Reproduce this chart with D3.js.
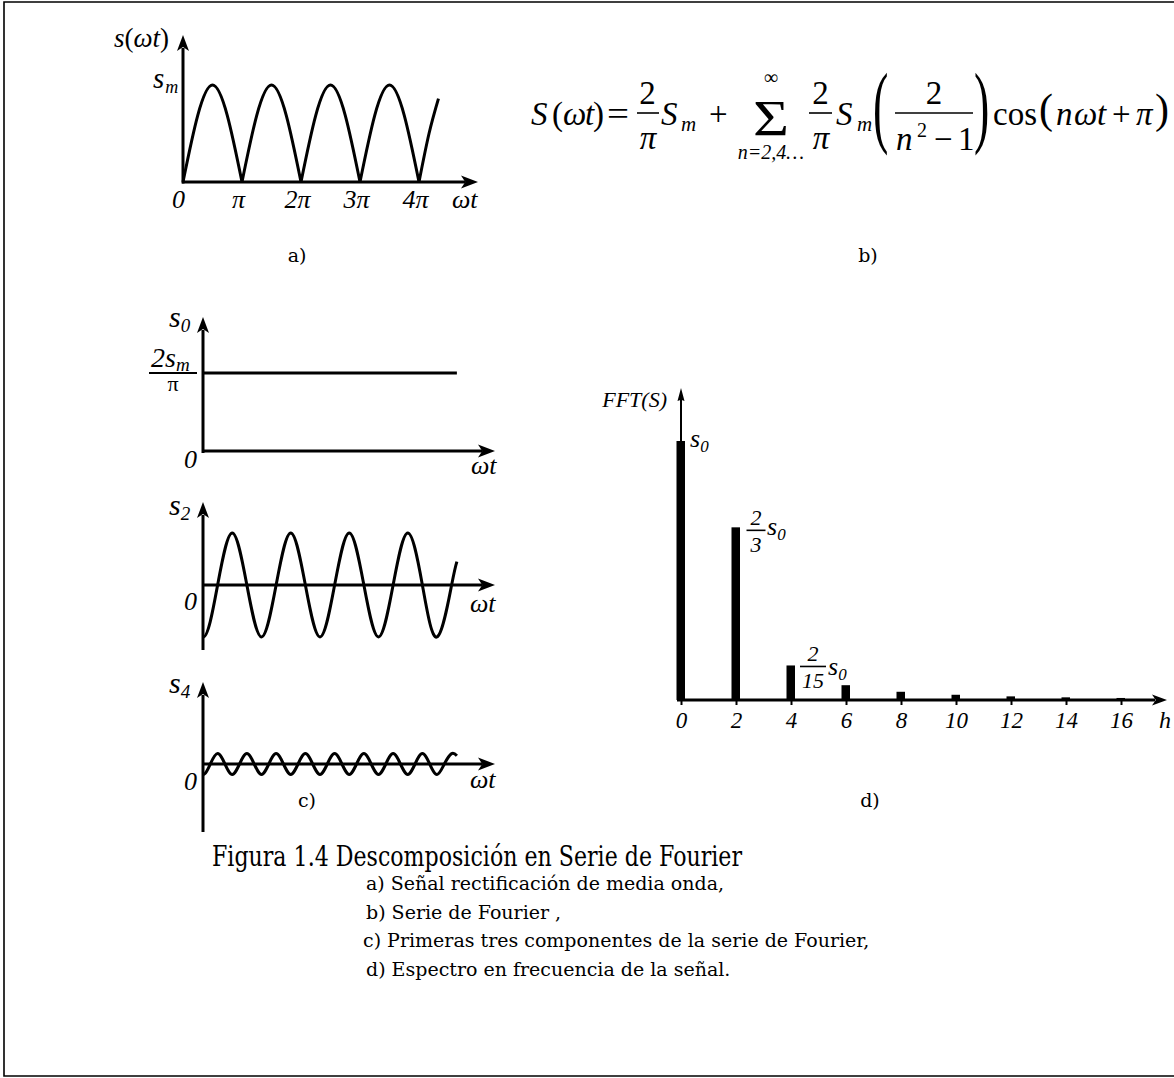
<!DOCTYPE html>
<html><head><meta charset="utf-8">
<script src="https://cdn.jsdelivr.net/npm/d3@7"></script>
<style>
html,body{margin:0;padding:0;background:#fff;}
svg{display:block;}
</style></head><body>
<svg id="fig" width="1174" height="1078"></svg>
<script>
// ---------- data ----------
// (a) rectified sine: arches between consecutive zeros (ωt in units of π), peak = Sm
const archZeros = [0, 1, 2, 3, 4];
const archPeak = 1;
const tailKeys = [[4, 0], [4.17, 0.5], [4.33, 0.86]];
const aTicks = [0, 1, 2, 3, 4];
const aTickLabels = ["0", "π", "2π", "3π", "4π"];

// (c) first three Fourier components, in units of Sm
const s0Level = 2 / Math.PI;
const s2Amp = (2 / Math.PI) * (2 / 3);
const s4Amp = (2 / Math.PI) * (2 / 15);
// key points [ωt/π, normalised value] of cos(nωt + π); the leading points before 0 are clipped
const s2Keys = [
  [-0.5,1],[-0.25,0],
  [0,-1],[0.25,0],[0.5,1],[0.75,0],[1,-1],[1.25,0],[1.5,1],[1.75,0],[2,-1],
  [2.25,0],[2.5,1],[2.75,0],[3,-1],[3.25,0],[3.5,1],[3.75,0],[4,-1],[4.25,0],[4.34,0.45]
];
const s4Keys = [
  [-0.25,1],[-0.125,0],
  [0,-1],[0.125,0],[0.25,1],[0.375,0],[0.5,-1],[0.625,0],[0.75,1],[0.875,0],[1,-1],
  [1.125,0],[1.25,1],[1.375,0],[1.5,-1],[1.625,0],[1.75,1],[1.875,0],[2,-1],
  [2.125,0],[2.25,1],[2.375,0],[2.5,-1],[2.625,0],[2.75,1],[2.875,0],[3,-1],
  [3.125,0],[3.25,1],[3.375,0],[3.5,-1],[3.625,0],[3.75,1],[3.875,0],[4,-1],
  [4.125,0],[4.25,1],[4.34,0.8]
];
const cEnd = 4.34;

// (d) spectrum: harmonic order and amplitude relative to s0
const harmonics = [0, 2, 4, 6, 8, 10, 12, 14, 16];
const spectrum = [1, 2/3, 2/15, 2/35, 2/63, 2/99, 2/143, 2/195, 2/255];

// caption
const captionTitle = "Figura 1.4 Descomposición en Serie de Fourier";
const captionLines = [
  "a) Señal rectificación de media onda,",
  "b) Serie de Fourier ,",
  "c) Primeras tres componentes de la serie de Fourier,",
  "d) Espectro en frecuencia de la señal."
];

// ---------- drawing ----------
const SERIF = '"Liberation Serif", "Times New Roman", serif';
const BOOK = '"DejaVu Serif", serif';
const svg = d3.select("#fig");

// outer frame
svg.append("path").attr("d", "M1174,2 H4 V1076 H1174")
  .attr("fill", "none").attr("stroke", "#000").attr("stroke-width", 1.6);

function arrow(g, x, y, dir, L, W, notch) {
  const n = notch == null ? 0.25 : notch;
  let pts;
  if (dir === "right") pts = [[x, y], [x - L, y - W / 2], [x - L * (1 - n), y], [x - L, y + W / 2]];
  else pts = [[x, y], [x - W / 2, y + L], [x, y + L * (1 - n)], [x + W / 2, y + L]];
  g.append("path").attr("d", "M" + pts.join("L") + "Z").attr("fill", "#000");
}
function hLine(g, x1, x2, y, w) {
  g.append("line").attr("x1", x1).attr("x2", x2).attr("y1", y).attr("y2", y)
    .attr("stroke", "#000").attr("stroke-width", w);
}
function vLine(g, x, y1, y2, w) {
  g.append("line").attr("x1", x).attr("x2", x).attr("y1", y1).attr("y2", y2)
    .attr("stroke", "#000").attr("stroke-width", w);
}
function txt(g, x, y, s, size, opts) {
  opts = opts || {};
  const t = g.append("text").attr("x", x).attr("y", y).text(s)
    .style("font-family", opts.fam || SERIF)
    .style("font-style", opts.upright ? "normal" : "italic")
    .style("font-size", size + "px").attr("fill", "#000");
  if (opts.anchor) t.attr("text-anchor", opts.anchor);
  if (opts.len) t.attr("textLength", opts.len).attr("lengthAdjust", "spacingAndGlyphs");
  return t;
}
// symbol with subscript, e.g. s₀
function sub(g, x, y, base, s, size, subSize, subDy, subDx) {
  const t = g.append("text").attr("x", x).attr("y", y)
    .style("font-family", SERIF).style("font-style", "italic")
    .style("font-size", size + "px").attr("fill", "#000");
  t.append("tspan").text(base);
  t.append("tspan").attr("dx", subDx || 0).attr("dy", subDy).style("font-size", subSize + "px").text(s);
  return t;
}

// ===== (a) =====
const gA = svg.append("g");
const xA = d3.scaleLinear().domain([0, 1]).range([183, 242]);
const yA = d3.scaleLinear().domain([0, 1]).range([182, 85]);
vLine(gA, xA(0), yA(0) + 1.5, 48, 3);
arrow(gA, xA(0), 35, "up", 16, 12);
hLine(gA, xA(0) - 1, 465, yA(0), 3);
arrow(gA, 478, yA(0), "right", 17, 13);

const lineA = d3.line().x(d => xA(d[0])).y(d => yA(d[1])).curve(d3.curveNatural);
const arches = d3.pairs(archZeros).map(([a, b]) => [[a, 0], [(a + b) / 2, archPeak], [b, 0]]);
gA.selectAll("path.arch").data(arches.concat([tailKeys])).join("path")
  .attr("class", "arch").attr("d", lineA)
  .attr("fill", "none").attr("stroke", "#000").attr("stroke-width", 3);

const axA = d3.axisBottom(xA).tickValues(aTicks).tickSize(0).tickFormat((d, i) => aTickLabels[i]);
const gAx = gA.append("g").attr("transform", `translate(0,${yA(0)})`).call(axA);
gAx.select(".domain").remove();
gAx.attr("font-family", null).attr("font-size", null);
gAx.selectAll("text").attr("y", 26).attr("dy", 0).attr("dx", (d) => d === 0 ? -5 : -4)
  .style("font-family", SERIF).style("font-style", "italic").style("font-size", "26px").attr("fill", "#000");
txt(gA, 452, 208, "ωt", 26);
{
  const t = gA.append("text").attr("x", 114).attr("y", 47)
    .style("font-family", SERIF).style("font-style", "italic").style("font-size", "27px");
  t.append("tspan").text("s");
  t.append("tspan").style("font-style", "normal").text("(");
  t.append("tspan").text("ωt");
  t.append("tspan").style("font-style", "normal").text(")");
}
sub(gA, 153, 88, "s", "m", 29, 18, 5, 1);
txt(gA, 297, 262, "a)", 19, { fam: BOOK, upright: true, anchor: "middle" });
txt(gA, 868, 262, "b)", 19, { fam: BOOK, upright: true, anchor: "middle" });

// ===== (b) formula =====
const gB = svg.append("g");
function f(x, y, s, size, italic, anchor) {
  return txt(gB, x, y, s, size, { upright: !italic, anchor: anchor });
}
f(531, 125, "S", 33, true);
f(552, 125, "(", 33, false);
f(563, 125, "ω", 33, true);
f(585, 125, "t", 33, true);
f(593, 125, ")", 33, false);
f(607, 125, "=", 33, false).attr("textLength", 22).attr("lengthAdjust", "spacingAndGlyphs");
f(647.5, 104, "2", 33, false, "middle");
hLine(gB, 637, 659, 113, 1.6);
f(648, 149, "π", 33, true, "middle");
f(661, 125, "S", 33, true);
f(681, 131, "m", 21, true);
f(709, 125, "+", 33, false);
f(771, 135, "Σ", 50, false, "middle").attr("textLength", 36).attr("lengthAdjust", "spacingAndGlyphs");
f(771, 84, "∞", 20, false, "middle");
f(771, 159, "n=2,4…", 20, true, "middle");
f(820.5, 104, "2", 33, false, "middle");
hLine(gB, 809, 832, 113, 1.6);
f(821, 149, "π", 33, true, "middle");
f(836, 125, "S", 33, true);
f(857, 131, "m", 21, true);
gB.append("text").attr("transform", "translate(873,136) scale(1.15,2.3)")
  .style("font-family", SERIF).style("font-size", "40px").text("(");
gB.append("text").attr("transform", "translate(974,136) scale(1.15,2.3)")
  .style("font-family", SERIF).style("font-size", "40px").text(")");
f(934, 104, "2", 33, false, "middle");
hLine(gB, 895, 973, 113, 1.6);
f(896, 150, "n", 33, true);
f(917, 137, "2", 20, false);
f(934, 150, "−", 33, false);
f(958, 150, "1", 33, false);
f(993, 125, "cos", 33, false);
f(1039, 123, "(", 42, false);
f(1056, 125, "n", 33, true);
f(1074, 125, "ω", 33, true);
f(1097, 125, "t", 33, true);
f(1112, 125, "+", 33, false);
f(1136, 125, "π", 33, true);
f(1155, 123, ")", 42, false);

// ===== (c) =====
const gC = svg.append("g");
const xC = d3.scaleLinear().domain([0, 1]).range([203, 261.5]);
const pxPerSm = 122.5;
const yS0 = d3.scaleLinear().domain([0, 1]).range([451, 451 - pxPerSm]);
const yS2 = d3.scaleLinear().domain([0, 1]).range([585, 585 - pxPerSm]);
const yS4 = d3.scaleLinear().domain([0, 1]).range([764, 764 - pxPerSm]);
svg.append("clipPath").attr("id", "cclip").append("rect")
  .attr("x", xC(0)).attr("y", 0).attr("width", 400).attr("height", 1078);

// s0
vLine(gC, xC(0), 453, 330, 3);
arrow(gC, xC(0), 317, "up", 16, 12);
hLine(gC, xC(0) - 1, 482, yS0(0), 3);
arrow(gC, 495, yS0(0), "right", 17, 13);
gC.append("path").datum([[0, s0Level], [cEnd, s0Level]])
  .attr("d", d3.line().x(d => xC(d[0])).y(d => yS0(d[1])))
  .attr("stroke", "#000").attr("stroke-width", 3).attr("fill", "none");
sub(gC, 169, 327, "s", "0", 30, 19, 5);
{
  const t = gC.append("text").attr("x", 151).attr("y", 367)
    .style("font-family", SERIF).style("font-style", "italic").style("font-size", "28px");
  t.append("tspan").text("2s");
  t.append("tspan").attr("dy", 4).style("font-size", "19px").text("m");
  hLine(gC, 149, 197, yS0(s0Level), 1.8);
  txt(gC, 173, 391, "π", 22, { upright: true, anchor: "middle" });
}
txt(gC, 184, 468, "0", 26);
txt(gC, 471, 474, "ωt", 26);

// s2
vLine(gC, xC(0), 650, 515, 3);
arrow(gC, xC(0), 502, "up", 16, 12);
hLine(gC, xC(0) - 1, 482, yS2(0), 3);
arrow(gC, 495, yS2(0), "right", 17, 13);
gC.append("path").datum(s2Keys).attr("clip-path", "url(#cclip)")
  .attr("d", d3.line().x(d => xC(d[0])).y(d => yS2(d[1] * s2Amp)).curve(d3.curveNatural))
  .attr("stroke", "#000").attr("stroke-width", 3).attr("fill", "none");
sub(gC, 169, 515, "s", "2", 30, 19, 5);
txt(gC, 184, 610, "0", 26);
txt(gC, 470, 612, "ωt", 26);

// s4
vLine(gC, xC(0), 832, 695, 3);
arrow(gC, xC(0), 682, "up", 16, 12);
hLine(gC, xC(0) - 1, 482, yS4(0), 3);
arrow(gC, 495, yS4(0), "right", 17, 13);
gC.append("path").datum(s4Keys).attr("clip-path", "url(#cclip)")
  .attr("d", d3.line().x(d => xC(d[0])).y(d => yS4(d[1] * s4Amp)).curve(d3.curveNatural))
  .attr("stroke", "#000").attr("stroke-width", 3).attr("fill", "none");
sub(gC, 169, 693, "s", "4", 30, 19, 5);
txt(gC, 184, 790, "0", 26);
txt(gC, 470, 788, "ωt", 26);
txt(gC, 307, 807, "c)", 19, { fam: BOOK, upright: true, anchor: "middle" });

// ===== (d) =====
const gD = svg.append("g");
const xD = d3.scaleLinear().domain([0, 16]).range([681, 1121]);
const yD = d3.scaleLinear().domain([0, 1]).range([700, 441]);
vLine(gD, xD(0), 700, 398, 2);
arrow(gD, xD(0), 388, "up", 13, 7, 0.1);
gD.selectAll("rect.bar").data(spectrum).join("rect").attr("class", "bar")
  .attr("x", (d, i) => xD(harmonics[i]) - 4.5).attr("width", 8.5)
  .attr("y", d => yD(d)).attr("height", d => yD(0) - yD(d)).attr("fill", "#000");
hLine(gD, xD(0) - 4, 1155, yD(0), 3);
arrow(gD, 1167, yD(0), "right", 15, 11);
const axD = d3.axisBottom(xD).tickValues(harmonics).tickSize(5).tickFormat(d => d);
const gDx = gD.append("g").attr("transform", `translate(0,${yD(0)})`).call(axD);
gDx.select(".domain").remove();
gDx.attr("font-family", null).attr("font-size", null);
gDx.selectAll("line").attr("stroke", "#000").attr("stroke-width", 2);
gDx.selectAll("text").attr("y", 28).attr("dy", 0)
  .style("font-family", SERIF).style("font-style", "italic").style("font-size", "23px").attr("fill", "#000");
txt(gD, 1159, 728, "h", 24);
txt(gD, 667, 407, "FFT(S)", 22, { anchor: "end" });
sub(gD, xD(0) + 9, yD(spectrum[0]) + 6, "s", "0", 26, 17, 5);
function fracLabel(cx, lineY, num, den, w) {
  txt(gD, cx, lineY - 5, num, 22, { anchor: "middle" });
  hLine(gD, cx - w / 2, cx + w / 2, lineY, 1.6);
  txt(gD, cx, lineY + 22, den, 22, { anchor: "middle" });
}
fracLabel(xD(2) + 20, yD(spectrum[1]) + 3, "2", "3", 19);
sub(gD, xD(2) + 31, yD(spectrum[1]) + 8, "s", "0", 26, 17, 5);
fracLabel(xD(4) + 22, yD(spectrum[2]) + 1, "2", "15", 26);
sub(gD, xD(4) + 37, yD(spectrum[2]) + 10, "s", "0", 26, 17, 5);
txt(gD, 870, 807, "d)", 19, { fam: BOOK, upright: true, anchor: "middle" });

// ===== caption =====
const gT = svg.append("g");
txt(gT, 212, 866, captionTitle, 27, { fam: BOOK, upright: true, len: 530 });
const capX = [366, 366, 363, 366];
captionLines.forEach((s, i) => {
  txt(gT, capX[i], 890 + i * 28.7, s, 19, { fam: BOOK, upright: true });
});
</script>
</body></html>
